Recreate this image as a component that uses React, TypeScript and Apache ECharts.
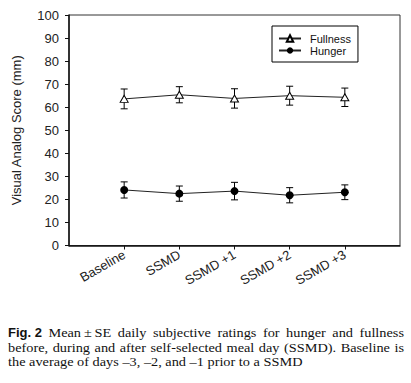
import React, { useEffect, useRef } from "react";
import * as echarts from "echarts";

const categories = ["Baseline", "SSMD", "SSMD +1", "SSMD +2", "SSMD +3"];
const fullnessMean = [63.6, 65.4, 63.8, 65.0, 64.3];
const fullnessSE = [4.3, 3.5, 4.2, 4.1, 4.0];
const hungerMean = [24.1, 22.5, 23.6, 21.8, 23.1];
const hungerSE = [3.5, 3.3, 3.8, 3.3, 3.2];
const yTicks = [0, 10, 20, 30, 40, 50, 60, 70, 80, 90, 100];

const captionLines = [
  ["Mean\u2009±\u2009SE", "daily", "subjective", "ratings", "for", "hunger", "and", "fullness"],
  ["before,", "during", "and", "after", "self-selected", "meal", "day", "(SSMD).", "Baseline", "is"],
  ["the", "average", "of", "days", "–3,", "–2,", "and", "–1", "prior", "to", "a", "SSMD"],
];
const captionLabel = "Fig. 2";

const SERIF = "'Liberation Serif', 'Times New Roman', serif";
const SANS = "'Liberation Sans', Arial, sans-serif";

export default function App() {
  const ref = useRef<HTMLDivElement>(null);
  useEffect(() => {
    if (!ref.current) return;
    const chart = echarts.init(ref.current, null, { renderer: "svg" });
    const axisData = [" ", ...categories, "  "];

    // caption layout (justified)
    const canvas = document.createElement("canvas");
    const ctx = canvas.getContext("2d")!;
    const fs = 13.5;
    const boldFs = 13;
    const sx = 1.06;
    const measure = (t: string, font: string) => {
      ctx.font = font;
      return ctx.measureText(t).width;
    };
    const serifFont = `${fs}px ${SERIF}`;
    const boldFont = `bold ${boldFs}px ${SANS}`;
    const leftX = 8;
    const rightX = 404;
    const baselines = [332.8, 347.5, 362];
    const graphics: any[] = [];
    captionLines.forEach((words, li) => {
      const items = words.map((w) => ({ text: w, font: serifFont, bold: false }));
      if (li === 0) items.unshift({ text: captionLabel, font: boldFont, bold: true });
      const widths = items.map((it) => measure(it.text, it.font) * (it.bold ? 1 : sx));
      const total = widths.reduce((a, b) => a + b, 0);
      const spaceW = measure(" ", serifFont) * sx;
      const justify = li < captionLines.length - 1;
      const gap = justify ? (rightX - leftX - total) / (items.length - 1) : spaceW;
      let x = leftX;
      items.forEach((it, i) => {
        graphics.push({
          type: "text",
          x,
          y: baselines[li],
          scaleX: it.bold ? 1 : sx,
          style: {
            text: it.text,
            fontFamily: it.bold ? SANS : SERIF,
            fontWeight: it.bold ? "bold" : "normal",
            fontSize: it.bold ? boldFs : fs,
            fill: "#111",
            verticalAlign: "middle",
            align: "left",
          },
        });
        x += widths[i] + gap;
      });
    });

    const errRender = (params: any, api: any) => {
      const xi = api.value(0);
      const lo = api.coord([xi, api.value(1)]);
      const hi = api.coord([xi, api.value(2)]);
      const cap = 3.5;
      const st = { stroke: "#000", lineWidth: 1 };
      return {
        type: "group",
        children: [
          { type: "line", shape: { x1: lo[0], y1: lo[1], x2: hi[0], y2: hi[1] }, style: st },
          { type: "line", shape: { x1: lo[0] - cap, y1: lo[1], x2: lo[0] + cap, y2: lo[1] }, style: st },
          { type: "line", shape: { x1: hi[0] - cap, y1: hi[1], x2: hi[0] + cap, y2: hi[1] }, style: st },
        ],
      };
    };

    chart.setOption({
      animation: false,
      backgroundColor: "#fff",
      grid: {
        left: 69,
        top: 15,
        right: 11,
        bottom: 137.5,
        show: true,
        borderColor: "#333",
        borderWidth: 1,
        containLabel: false,
      },
      legend: {
        orient: "vertical",
        left: 272,
        top: 26,
        data: [{ name: "Fullness" }, { name: "Hunger" }],
        itemWidth: 22,
        itemHeight: 8,
        itemGap: 1,
        padding: [7, 7, 6, 6],
        borderColor: "#000",
        borderWidth: 1,
        textStyle: { fontFamily: SANS, fontSize: 11, color: "#111", padding: [0, 0, 0, 4] },
      },
      xAxis: {
        type: "category",
        data: axisData,
        boundaryGap: false,
        axisLine: { show: true, lineStyle: { color: "#111", width: 1.5 } },
        axisTick: {
          show: true,
          inside: false,
          length: 4,
          interval: (i: number) => i > 0 && i < axisData.length - 1,
          lineStyle: { color: "#111" },
        },
        axisLabel: {
          interval: 0,
          rotate: 30,
          margin: 8,
          fontFamily: SANS,
          fontSize: 13,
          color: "#222",
        },
        splitLine: { show: false },
      },
      yAxis: {
        type: "value",
        min: yTicks[0],
        max: yTicks[yTicks.length - 1],
        interval: 10,
        name: "Visual Analog Score (mm)",
        nameLocation: "middle",
        nameGap: 46,
        nameTextStyle: { fontFamily: SANS, fontSize: 13, color: "#222" },
        axisLine: { show: true, lineStyle: { color: "#111", width: 1.5 } },
        axisTick: { show: true, inside: false, length: 4, lineStyle: { color: "#111" } },
        axisLabel: { margin: 10, fontFamily: SANS, fontSize: 13, color: "#222" },
        splitLine: { show: false },
      },
      series: [
        {
          name: "Fullness SE",
          type: "custom",
          renderItem: errRender,
          data: categories.map((c, i) => [c, fullnessMean[i] - fullnessSE[i], fullnessMean[i] + fullnessSE[i]]),
          encode: { x: 0, y: [1, 2] },
          z: 2,
        },
        {
          name: "Hunger SE",
          type: "custom",
          renderItem: errRender,
          data: categories.map((c, i) => [c, hungerMean[i] - hungerSE[i], hungerMean[i] + hungerSE[i]]),
          encode: { x: 0, y: [1, 2] },
          z: 2,
        },
        {
          name: "Fullness",
          type: "line",
          data: categories.map((c, i) => [c, fullnessMean[i]]),
          symbol: "triangle",
          symbolSize: [8, 7],
          showAllSymbol: true,
          itemStyle: { color: "#fff", borderColor: "#000", borderWidth: 1 },
          lineStyle: { color: "#222", width: 1 },
          z: 3,
        },
        {
          name: "Hunger",
          type: "line",
          data: categories.map((c, i) => [c, hungerMean[i]]),
          symbol: "circle",
          symbolSize: 8,
          showAllSymbol: true,
          itemStyle: { color: "#000", borderColor: "#000", borderWidth: 0 },
          lineStyle: { color: "#222", width: 1 },
          z: 3,
        },
      ],
      graphic: graphics,
    });
    return () => chart.dispose();
  }, []);
  return (
    <div
      ref={ref}
      style={{ position: "fixed", left: 0, top: 0, width: 411, height: 383, background: "#fff" }}
    />
  );
}
